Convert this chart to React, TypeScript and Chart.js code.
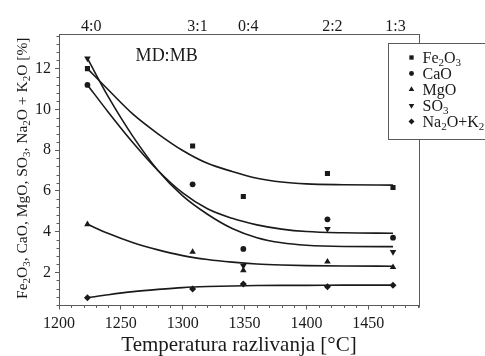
import React, { useEffect, useRef } from "react";
import { Chart, registerables } from "chart.js";
import { drawPoint } from "chart.js/helpers";

Chart.register(...registerables);

const FONT = "'Liberation Serif', 'Times New Roman', Times, serif";
const INK = "#1a1a1a";
const FRAME = "#5a5a5a";

// ---- data ----
const seriesNames = ["Fe₂O₃", "CaO", "MgO", "SO₃", "Na₂O+K₂O"];
const markerStyles = ["rect", "circle", "triangle", "triangle", "rectRot"];
const markerRotations = [0, 0, 0, 180, 0];
const markerRadii = [3.6, 2.9, 3.8, 3.8, 3.5];

const temperatures = [1223, 1308, 1349, 1417, 1470];
const fe2o3 = [12.0, 8.2, 5.72, 6.85, 6.16];
const cao = [11.2, 6.32, 3.15, 4.6, 3.7];
const mgo = [4.36, 3.0, 2.1, 2.52, 2.25];
const so3 = [12.5, null, 2.32, 4.13, 3.0];
const na2oK2o = [0.75, 1.18, 1.42, 1.29, 1.36];

const fitTemperatures = [1223, 1240, 1260, 1280, 1300, 1320, 1340, 1360, 1380, 1400, 1430, 1470];
const fe2o3Fit = [12.0, 10.95, 9.75, 8.8, 7.98, 7.35, 6.95, 6.62, 6.43, 6.34, 6.3, 6.28];
const caoFit = [11.2, 9.85, 8.35, 7.0, 5.9, 5.12, 4.65, 4.33, 4.12, 4.0, 3.94, 3.92];
const mgoFit = [4.36, 3.9, 3.45, 3.1, 2.82, 2.63, 2.5, 2.41, 2.36, 2.33, 2.31, 2.3];
const so3Fit = [12.5, 10.6, 8.65, 7.0, 5.75, 4.85, 4.15, 3.7, 3.45, 3.33, 3.27, 3.26];
const na2oK2oFit = [0.75, 0.9, 1.05, 1.16, 1.25, 1.3, 1.33, 1.35, 1.36, 1.36, 1.37, 1.37];

const xTicks = [1200, 1250, 1300, 1350, 1400, 1450];
const yTicks = [2, 4, 6, 8, 10, 12];
const ratioPositions = [1226, 1312, 1353, 1421, 1472];
const ratioLabels = ["4:0", "3:1", "0:4", "2:2", "1:3"];
const xRange = [1200, 1491];
const yRange = [0.37, 13.7];
const xMinorStep = 10;
const yMinorStep = 0.4;
const annotationText = "MD:MB";
const annotationAt = [1287, 12.6];
const xTitle = "Temperatura razlivanja [°C]";
const yTitle = "Fe₂O₃, CaO, MgO, SO₃, Na₂O + K₂O [%]";

const pointSeries = [fe2o3, cao, mgo, so3, na2oK2o];
const fitSeries = [fe2o3Fit, caoFit, mgoFit, so3Fit, na2oK2oFit];

// ---- rich text (subscripts) ----
const SUB: Record<string, string> = { "₀": "0", "₁": "1", "₂": "2", "₃": "3", "₄": "4" };

function splitRich(text: string) {
  const parts: { t: string; sub: boolean }[] = [];
  for (const ch of Array.from(text)) {
    const sub = SUB[ch] !== undefined;
    const t = sub ? SUB[ch] : ch;
    const last = parts[parts.length - 1];
    if (last && last.sub === sub) last.t += t;
    else parts.push({ t, sub });
  }
  return parts;
}

function drawRich(
  ctx: CanvasRenderingContext2D,
  text: string,
  x: number,
  baseline: number,
  size: number,
  align: "left" | "center"
) {
  const parts = splitRich(text);
  const main = `${size}px ${FONT}`;
  const small = `${Math.round(size * 0.68)}px ${FONT}`;
  const widths = parts.map((p) => {
    ctx.font = p.sub ? small : main;
    return ctx.measureText(p.t).width;
  });
  const total = widths.reduce((a, b) => a + b, 0);
  let cx = align === "center" ? x - total / 2 : x;
  ctx.textAlign = "left";
  ctx.textBaseline = "alphabetic";
  parts.forEach((p, i) => {
    ctx.font = p.sub ? small : main;
    ctx.fillText(p.t, cx, p.sub ? baseline + size * 0.2 : baseline);
    cx += widths[i];
  });
}

// ---- plugin: minor ticks, frame, titles, annotation, legend ----
const decorPlugin = {
  id: "decor",
  afterDraw(chart: any) {
    const { ctx, chartArea } = chart;
    const xs = chart.scales.x;
    const ys = chart.scales.y;
    ctx.save();

    // minor ticks
    ctx.strokeStyle = FRAME;
    ctx.lineWidth = 1;
    ctx.beginPath();
    for (let k = Math.ceil(xRange[0] / xMinorStep); k * xMinorStep <= xRange[1]; k++) {
      const v = k * xMinorStep;
      if (xTicks.includes(v)) continue;
      const px = Math.round(xs.getPixelForValue(v)) + 0.5;
      ctx.moveTo(px, chartArea.bottom);
      ctx.lineTo(px, chartArea.bottom + 2.5);
    }
    for (let k = Math.ceil(yRange[0] / yMinorStep - 1e-9); k * yMinorStep <= yRange[1] + 1e-9; k++) {
      const v = Math.round(k * yMinorStep * 100) / 100;
      if (yTicks.some((t) => Math.abs(t - v) < 1e-6)) continue;
      const py = Math.round(ys.getPixelForValue(v)) + 0.5;
      ctx.moveTo(chartArea.left, py);
      ctx.lineTo(chartArea.left - 2.5, py);
    }
    ctx.stroke();

    // right frame line
    ctx.beginPath();
    ctx.moveTo(Math.round(chartArea.right) + 0.5, chartArea.top);
    ctx.lineTo(Math.round(chartArea.right) + 0.5, chartArea.bottom + 2);
    ctx.stroke();

    // y title (rotated, with subscripts)
    ctx.fillStyle = INK;
    ctx.save();
    ctx.translate(21, (chartArea.top + chartArea.bottom) / 2 - 1.5);
    ctx.rotate(-Math.PI / 2);
    drawRich(ctx, yTitle, 0, 5.5, 15.5, "center");
    ctx.restore();

    // annotation
    ctx.font = `18px ${FONT}`;
    ctx.textAlign = "center";
    ctx.textBaseline = "middle";
    ctx.fillText(annotationText, xs.getPixelForValue(annotationAt[0]), ys.getPixelForValue(annotationAt[1]));

    // legend box
    const bx = chartArea.right - 31 + 0.5;
    const by = chartArea.top + 9 + 0.5;
    const bw = 120;
    const bh = 96;
    ctx.fillStyle = "#ffffff";
    ctx.fillRect(bx, by, bw, bh);
    ctx.strokeStyle = FRAME;
    ctx.strokeRect(bx, by, bw, bh);
    seriesNames.forEach((name, i) => {
      const cy = by + 14 + i * 16;
      ctx.fillStyle = INK;
      ctx.strokeStyle = INK;
      drawPoint(
        ctx,
        {
          pointStyle: markerStyles[i],
          rotation: markerRotations[i],
          radius: markerRadii[i] * 0.85,
          borderWidth: 0,
        } as any,
        bx + 23,
        cy
      );
      ctx.fillStyle = INK;
      drawRich(ctx, name, bx + 34, cy + 5, 16, "left");
    });

    ctx.restore();
  },
};

export default function App() {
  const ref = useRef<HTMLCanvasElement | null>(null);

  useEffect(() => {
    if (!ref.current) return;

    const fitSets = fitSeries.map((vals, i) => ({
      label: seriesNames[i] + " fit",
      data: fitTemperatures.map((t, j) => ({ x: t, y: vals[j] })),
      showLine: true,
      pointRadius: 0,
      borderColor: INK,
      borderWidth: 1.6,
      cubicInterpolationMode: "monotone" as const,
      fill: false,
    }));

    const pointSets = pointSeries.map((vals, i) => ({
      label: seriesNames[i],
      data: temperatures
        .map((t, j) => ({ x: t, y: vals[j] as number | null }))
        .filter((p) => p.y !== null),
      showLine: false,
      pointStyle: markerStyles[i],
      rotation: markerRotations[i],
      pointRadius: markerRadii[i],
      backgroundColor: INK,
      borderColor: INK,
      borderWidth: 0,
    }));

    const tickFont = { family: FONT, size: 16 };

    const chart = new Chart(ref.current, {
      type: "scatter",
      data: { datasets: [...pointSets, ...fitSets] as any },
      options: {
        animation: false,
        responsive: false,
        devicePixelRatio: 1,
        layout: { padding: { left: 0, right: 66, top: 0, bottom: 0 } },
        plugins: { legend: { display: false }, tooltip: { enabled: false } },
        scales: {
          x: {
            type: "linear",
            position: "bottom",
            min: xRange[0],
            max: xRange[1],
            afterBuildTicks: (s: any) => {
              s.ticks = xTicks.map((v) => ({ value: v }));
            },
            afterFit: (s: any) => {
              s.height = 50.5;
            },
            ticks: {
              font: tickFont,
              color: INK,
              padding: 5,
              maxRotation: 0,
              callback: (v: any) => String(v),
            },
            grid: { drawOnChartArea: false, drawTicks: true, tickLength: 4, color: FRAME },
            border: { display: true, color: FRAME, width: 1 },
            title: {
              display: true,
              text: xTitle,
              color: INK,
              font: { family: FONT, size: 21 },
              padding: { top: 0, bottom: -2 },
            },
          },
          x2: {
            type: "linear",
            position: "top",
            min: xRange[0],
            max: xRange[1],
            afterBuildTicks: (s: any) => {
              s.ticks = ratioPositions.map((v) => ({ value: v }));
            },
            afterFit: (s: any) => {
              s.height = 34;
            },
            ticks: {
              font: tickFont,
              color: INK,
              padding: -2,
              maxRotation: 0,
              autoSkip: false,
              callback: (_v: any, i: number) => ratioLabels[i],
            },
            grid: { display: false, drawTicks: false },
            border: { display: true, color: FRAME, width: 1 },
          },
          y: {
            type: "linear",
            position: "left",
            min: yRange[0],
            max: yRange[1],
            afterBuildTicks: (s: any) => {
              s.ticks = yTicks.map((v) => ({ value: v }));
            },
            afterFit: (s: any) => {
              s.width = 59;
            },
            ticks: {
              font: tickFont,
              color: INK,
              padding: 4,
              callback: (v: any) => String(v),
            },
            grid: { drawOnChartArea: false, drawTicks: true, tickLength: 4, color: FRAME },
            border: { display: true, color: FRAME, width: 1 },
          },
        },
      },
      plugins: [decorPlugin],
    });

    return () => chart.destroy();
  }, []);

  return (
    <div style={{ position: "fixed", left: 0, top: 0, width: 485, height: 356, background: "#fff" }}>
      <canvas ref={ref} width={485} height={356} style={{ display: "block", width: 485, height: 356 }} />
    </div>
  );
}
